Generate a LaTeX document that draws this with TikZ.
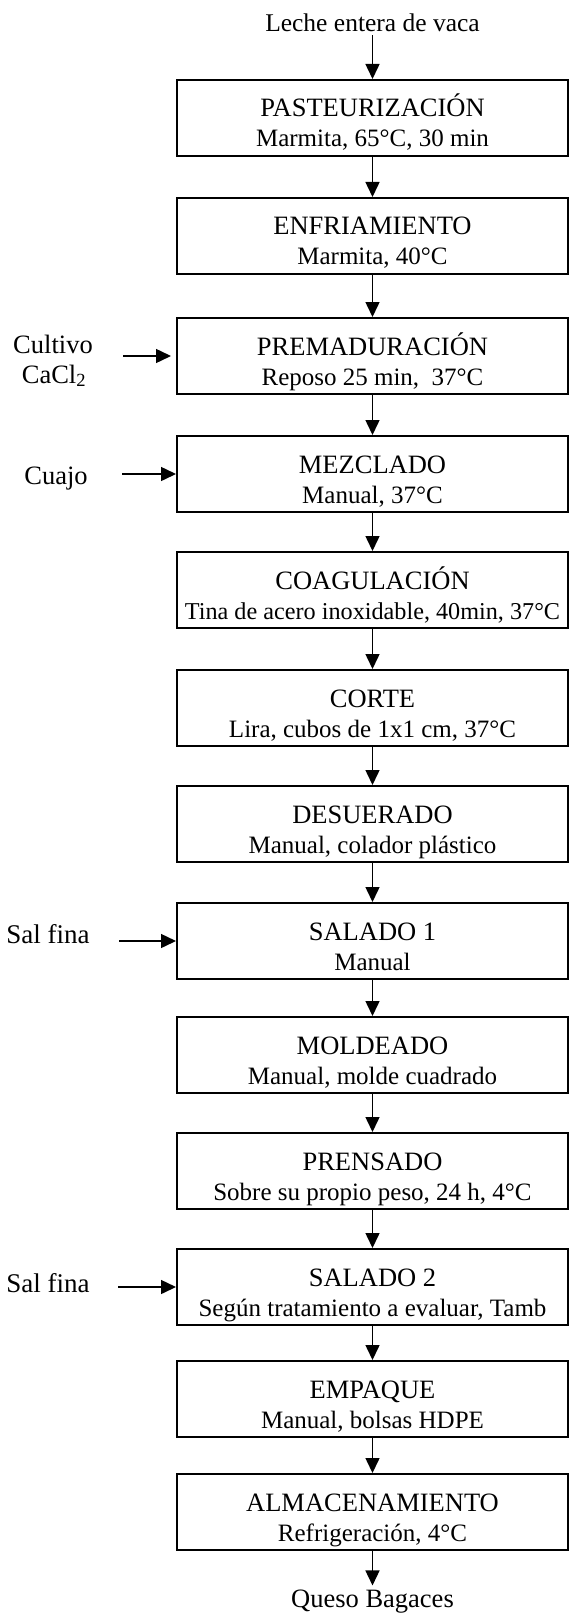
\documentclass[tikz,border=0pt]{standalone}
\usepackage{fontspec}
\setmainfont{Liberation Serif}
\usetikzlibrary{arrows.meta,calc}
\tikzset{
  box/.style={draw=black, line width=2pt, rectangle, minimum width=391pt, minimum height=76pt, inner sep=0pt},
  ttl/.style={anchor=base, inner sep=0pt, font=\fontsize{26.5}{30}\selectfont},
  sub/.style={anchor=base, inner sep=0pt, font=\fontsize{25}{28}\selectfont},
  lbl/.style={anchor=base, inner sep=0pt, font=\fontsize{26.5}{30}\selectfont},
  arr/.style={line width=1.5pt, -{Triangle[length=15pt,width=14pt]}}
}
\newcommand\stage[4]{%
  \node[box] (#1) at (372.5,#2+38) {};
  \node[ttl] (#1t) at ([yshift=1pt]#1.center) {#3};
  \node[sub] (#1s) at ([yshift=-29pt]#1.center) {#4};
}
\begin{document}
\begin{tikzpicture}[x=1pt,y=-1pt]
\useasboundingbox (0,0) rectangle (569,1613);
\node[lbl, font=\fontsize{25.5}{30}\selectfont, outer sep=3pt] (leche) at (372.5,32) {Leche entera de vaca};
\stage{b1}{80}{PASTEURIZACIÓN}{Marmita, 65°C, 30 min}
\stage{b2}{198}{ENFRIAMIENTO}{Marmita, 40°C}
\stage{b3}{318}{PREMADURACIÓN}{Reposo 25 min,\ \ 37°C}
\stage{b4}{436}{MEZCLADO}{Manual, 37°C}
\stage{b5}{552}{COAGULACIÓN}{\fontsize{24.2}{28}\selectfont Tina de acero inoxidable, 40min, 37°C}
\stage{b6}{670}{CORTE}{Lira, cubos de 1x1 cm, 37°C}
\stage{b7}{786}{DESUERADO}{Manual, colador plástico}
\stage{b8}{903}{SALADO 1}{Manual}
\stage{b9}{1017}{MOLDEADO}{Manual, molde cuadrado}
\stage{b10}{1133}{PRENSADO}{Sobre su propio peso, 24 h, 4°C}
\stage{b11}{1249}{SALADO 2}{Según tratamiento a evaluar, Tamb}
\stage{b12}{1361}{EMPAQUE}{Manual, bolsas HDPE}
\stage{b13}{1474}{ALMACENAMIENTO}{Refrigeración, 4°C}
\node[lbl, outer sep=4pt] (queso) at (372.5,1607) {Queso Bagaces};

\draw[arr] (leche.south) -- (b1.north);
\foreach \a/\b in {b1/b2,b2/b3,b3/b4,b4/b5,b5/b6,b6/b7,b7/b8,b8/b9,b9/b10,b10/b11,b11/b12,b12/b13}
  \draw[arr] (\a.south) -- (\b.north);
\draw[arr] (b13.south) -- (queso.north);

% side inputs
\node[lbl] (cult1) at (53,353) {Cultivo};
\node[lbl] (cult2) at (54,383) {CaCl\textsubscript{2}};
\coordinate (cultA) at (123,356);
\draw[arr, shorten >=5pt] (cultA) -- (b3.west);

\node[lbl] (cuajo) at (56,484) {Cuajo};
\coordinate (cuajoA) at (122,474);
\draw[arr] (cuajoA) -- (b4.west);

\node[lbl, font=\fontsize{27}{30}\selectfont] (sal1) at (48,943) {Sal fina};
\coordinate (sal1A) at (119,941);
\draw[arr] (sal1A) -- (b8.west);

\node[lbl, font=\fontsize{27}{30}\selectfont] (sal2) at (48,1292) {Sal fina};
\coordinate (sal2A) at (118,1287);
\draw[arr] (sal2A) -- (b11.west);
\end{tikzpicture}
\end{document}
